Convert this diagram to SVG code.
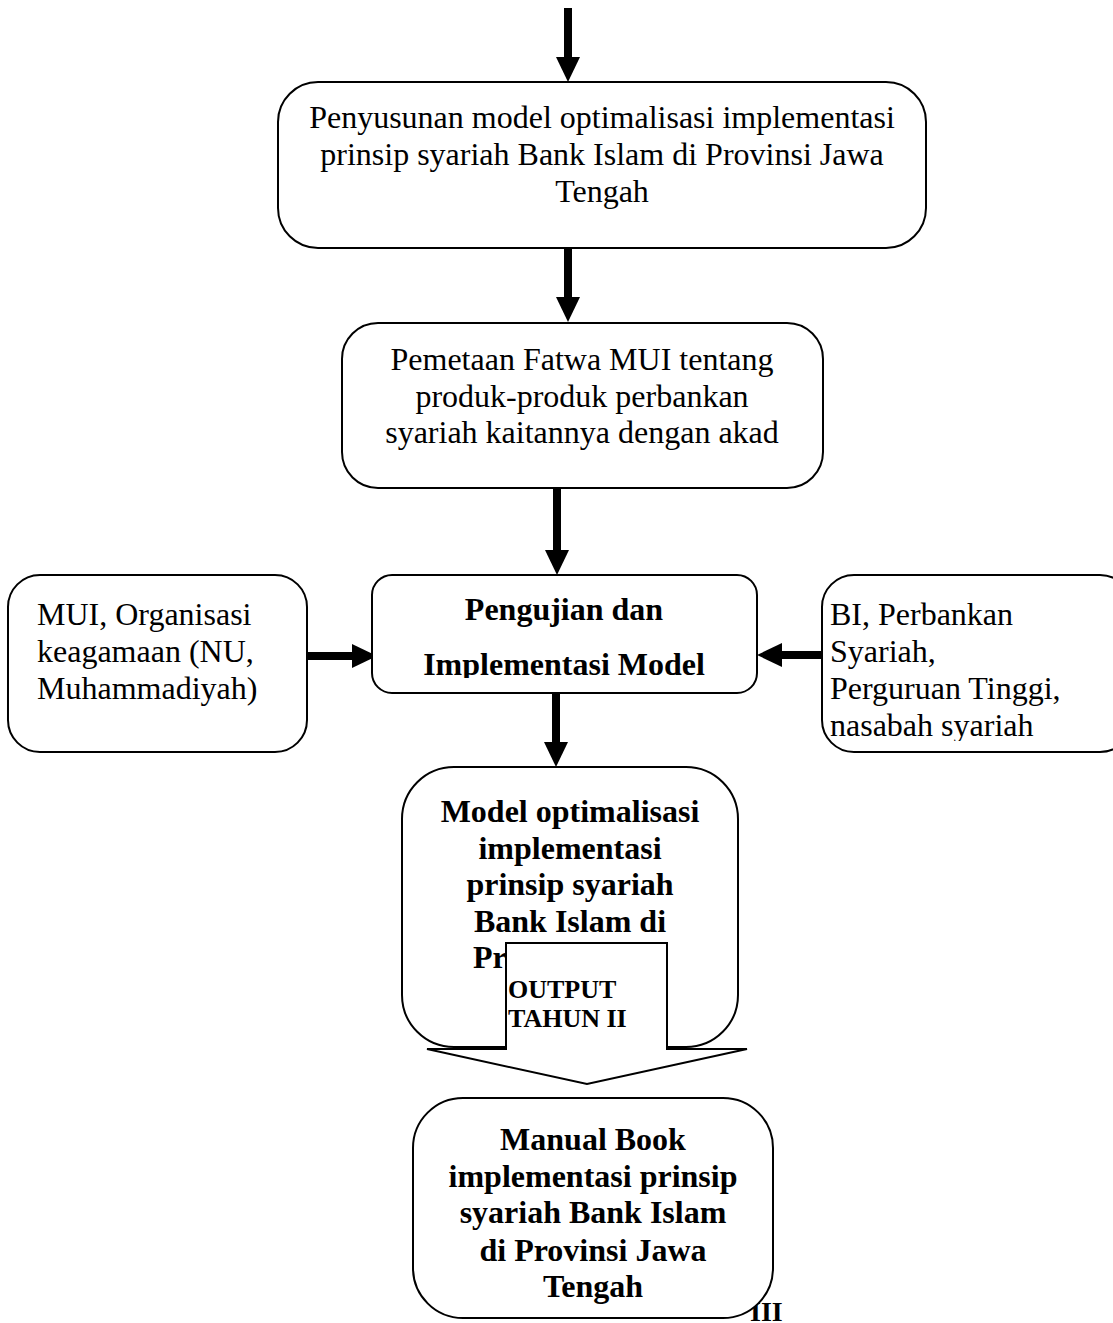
<svg xmlns="http://www.w3.org/2000/svg" width="1113" height="1323" viewBox="0 0 1113 1323">
<style>
.box{fill:#fff;stroke:#000;stroke-width:2}
.t{font-family:"Liberation Serif","Times New Roman",serif;font-size:32px;fill:#000}
.b{font-weight:bold}
.c{text-anchor:middle}
.conn{stroke:#000;stroke-width:8;fill:none;marker-end:url(#ah)}
</style>
<defs>
<marker id="ah" markerUnits="userSpaceOnUse" viewBox="0 0 25 24" markerWidth="25" markerHeight="24" refX="0" refY="12" orient="auto">
<path d="M0,0 L25,12 L0,24 Z" fill="#000"/>
</marker>
<clipPath id="clip3"><rect x="372" y="575" width="386" height="103"/></clipPath>
<clipPath id="clipR"><rect x="822" y="575" width="291" height="166"/></clipPath>
</defs>
<rect width="1113" height="1323" fill="#fff"/>

<g id="connectors">
<line class="conn" x1="568" y1="8" x2="568" y2="57"/>
<line class="conn" x1="568" y1="249" x2="568" y2="297"/>
<line class="conn" x1="557" y1="488" x2="557" y2="550"/>
<line class="conn" x1="556" y1="693" x2="556" y2="742"/>
<line class="conn" x1="307" y1="656" x2="352" y2="656"/>
<line class="conn" x1="822" y1="655" x2="782" y2="655"/>
</g>

<g id="n1">
<rect class="box" x="278" y="82" width="648" height="166" rx="40"/>
<text class="t c" x="602" y="128">Penyusunan model optimalisasi implementasi</text>
<text class="t c" x="602" y="165">prinsip syariah Bank Islam di Provinsi Jawa</text>
<text class="t c" x="602" y="202">Tengah</text>
</g>

<g id="n2">
<rect class="box" x="342" y="323" width="481" height="165" rx="36"/>
<text class="t c" x="582" y="370">Pemetaan Fatwa MUI tentang</text>
<text class="t c" x="582" y="407">produk-produk perbankan</text>
<text class="t c" x="582" y="443">syariah kaitannya dengan akad</text>
</g>

<g id="n3">
<rect class="box" x="372" y="575" width="385" height="118" rx="20"/>
<g clip-path="url(#clip3)">
<text class="t b c" x="564" y="620">Pengujian dan</text>
<text class="t b c" x="564" y="675">Implementasi Model</text>
</g>
</g>

<g id="nL">
<rect class="box" x="8" y="575" width="299" height="177" rx="32"/>
<text class="t" x="37" y="625">MUI, Organisasi</text>
<text class="t" x="37" y="662">keagamaan (NU,</text>
<text class="t" x="37" y="699">Muhammadiyah)</text>
</g>

<g id="nR">
<rect class="box" x="822" y="575" width="310" height="177" rx="32"/>
<g clip-path="url(#clipR)">
<text class="t" x="830" y="625">BI, Perbankan</text>
<text class="t" x="830" y="662">Syariah,</text>
<text class="t" x="830" y="699">Perguruan Tinggi,</text>
<text class="t" x="830" y="736">nasabah syariah</text>
</g>
</g>

<g id="n4">
<rect class="box" x="402" y="767" width="336" height="280" rx="52"/>
<text class="t b c" x="570" y="822">Model optimalisasi</text>
<text class="t b c" x="570" y="859">implementasi</text>
<text class="t b c" x="570" y="895">prinsip syariah</text>
<text class="t b c" x="570" y="932">Bank Islam di</text>
<text class="t b" x="473" y="968">Pr</text>
</g>

<g id="output2">
<polygon points="506,943 667,943 667,1049 747,1049 587,1084 427,1049 506,1049" fill="#fff" stroke="#000" stroke-width="2"/>
<text class="t b" x="508" y="998" style="font-size:26px">OUTPUT</text>
<text class="t b" x="508" y="1027" style="font-size:26px">TAHUN II</text>
</g>

<g id="output3">
<text class="t b" x="750" y="1321" style="font-size:28px">III</text>
</g>

<g id="n5">
<rect class="box" x="413" y="1098" width="360" height="220" rx="50"/>
<text class="t b c" x="593" y="1150">Manual Book</text>
<text class="t b c" x="593" y="1187">implementasi prinsip</text>
<text class="t b c" x="593" y="1223">syariah Bank Islam</text>
<text class="t b c" x="593" y="1261">di Provinsi Jawa</text>
<text class="t b c" x="593" y="1297">Tengah</text>
</g>
</svg>
